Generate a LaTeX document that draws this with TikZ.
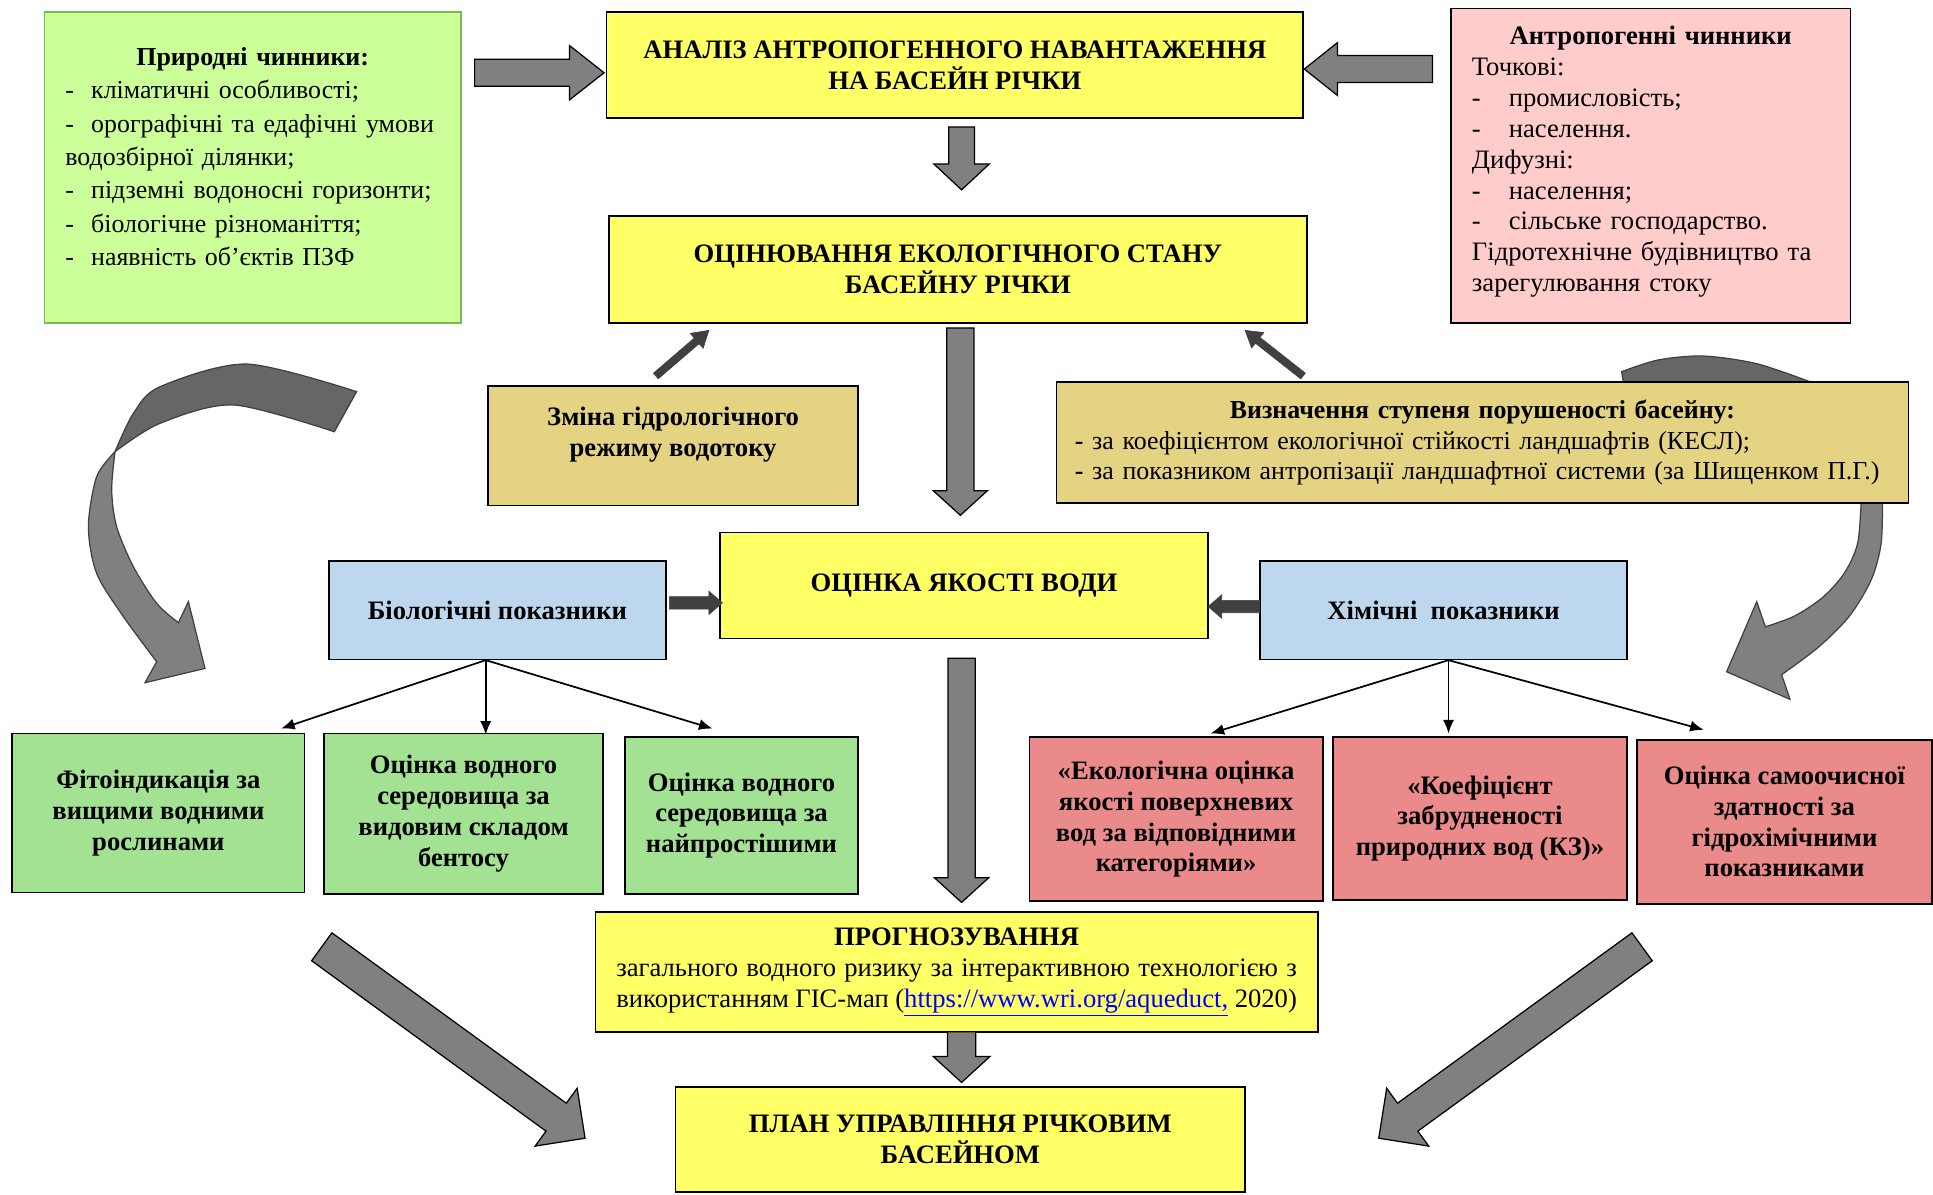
\documentclass[tikz,border=0pt]{standalone}
\usepackage{fontspec}
\setmainfont{Liberation Serif}
\usetikzlibrary{arrows.meta}
\definecolor{grTop}{RGB}{204,255,153}
\definecolor{grBord}{RGB}{120,185,80}
\definecolor{yel}{RGB}{255,255,102}
\definecolor{pinkb}{RGB}{255,204,204}
\definecolor{tanb}{RGB}{228,211,131}
\definecolor{blueb}{RGB}{189,215,238}
\definecolor{grBot}{RGB}{163,226,146}
\definecolor{redb}{RGB}{234,138,138}
\definecolor{arrgray}{RGB}{128,128,128}
\definecolor{arrdark}{RGB}{102,102,102}
\definecolor{arrline}{RGB}{64,64,64}
\newcommand{\fs}{\fontsize{21.6}{25}\selectfont}
\newcommand{\blkarrow}[6][]{%
  \path (#2); \pgfgetlastxy{\bax}{\bay}%
  \path (#3); \pgfgetlastxy{\bbx}{\bby}%
  \pgfmathsetmacro\bkang{atan2((\bby)-(\bay),(\bbx)-(\bax))}%
  \pgfmathsetmacro\bklen{veclen((\bbx)-(\bax),(\bby)-(\bay))}%
  \filldraw[blockar,#1,shift={(\bax,\bay)},rotate=\bkang]
    (0,-#4/2) -- ({\bklen-#6},-#4/2) -- ({\bklen-#6},-#5/2) -- (\bklen,0)
    -- ({\bklen-#6},#5/2) -- ({\bklen-#6},#4/2) -- (0,#4/2) -- cycle;
}
\tikzset{
  box/.style={draw=black, line width=1.4pt, align=center, inner sep=2pt, font=\fs},
  boldbox/.style={box, font=\fs\bfseries},
  blockar/.style={fill=arrgray, draw=black, line width=1pt, line join=miter},
  smallar/.style={fill=arrline, draw=arrline, line width=0.5pt},
  curvD/.style={fill=arrdark, draw=arrline, line width=1pt},
  curvL/.style={fill=arrgray, draw=arrline, line width=1pt},
  tree/.style={line width=1.4pt, -{Latex[length=11pt,width=9pt]}}
}
\begin{document}
\begin{tikzpicture}[x=1pt,y=1pt]
\fill[white] (0,0) rectangle (1568,-969);
\useasboundingbox (0,0) rectangle (1568,-969);

% right curved arrow (behind the tan box)
\filldraw[curvD] plot[smooth] coordinates {(1315.4,-301.5) (1345,-292) (1381.7,-288.8) (1425,-295) (1468,-309.6)}
  -- (1468,-330) -- (1320,-330) -- cycle;
\filldraw[curvL] plot[smooth] coordinates {(1510,-400) (1507,-440) (1496,-465) (1478,-485) (1455,-500) (1432,-508.4)}
  -- (1425,-488.1) -- (1400.6,-544.9) -- (1452,-567.3) -- (1445.2,-547.3)
  -- plot[smooth] coordinates {(1445.2,-547.3) (1475,-525) (1500,-500) (1518,-470) (1526,-440) (1527,-400)} -- cycle;

% left curved arrow
\filldraw[curvD] plot[smooth] coordinates {(289.3,-317.7) (200.1,-295.3) (129.8,-313.7) (108.2,-335.3) (93.3,-366.4)}
  -- plot[smooth] coordinates {(93.3,-366.4) (129.8,-343.4) (189.3,-328.5) (271.2,-350.2)} -- cycle;
\filldraw[curvL] plot[smooth] coordinates {(93.3,-366.4) (78.4,-386.7) (71.7,-427.2) (78.4,-465.1) (100.1,-500.2) (127.1,-536.8)}
  -- (117.6,-553.8) -- (166.3,-542.2) -- (152.8,-488.1) -- (144.7,-505.1)
  -- plot[smooth] coordinates {(144.7,-505.1) (127.1,-489.4) (108.2,-459.7) (94.6,-427.2) (90.6,-397.5) (93.3,-366.4)} -- cycle;

% boxes
\node[box, draw=grBord, fill=grTop, align=left, text width=304pt, inner xsep=17pt,
  minimum height=252pt, font=\fontsize{21}{27}\selectfont] (nat) at (205,-136) {%
\makebox[\linewidth]{\textbf{Природні чинники:}}\\
\mbox{-\ \ кліматичні особливості;}\\
\mbox{-\ \ орографічні та едафічні умови}\\
\mbox{водозбірної ділянки;}\\
\mbox{-\ \ підземні водоносні горизонти;}\\
\mbox{-\ \ біологічне різноманіття;}\\
\mbox{-\ \ наявність об’єктів ПЗФ}\rule[-18pt]{0pt}{0pt}};

\node[box, fill=pinkb, align=left, text width=290pt, inner xsep=17pt,
  minimum height=255pt] (anth) at (1339,-134.5) {%
\makebox[\linewidth]{\textbf{Антропогенні чинники}}\\
Точкові:\\
\makebox[30pt][l]{-}промисловість;\\
\makebox[30pt][l]{-}населення.\\
Дифузні:\\
\makebox[30pt][l]{-}населення;\\
\makebox[30pt][l]{-}сільське господарство.\\
Гідротехнічне будівництво та\\
зарегулювання стоку\rule[-11pt]{0pt}{0pt}};

\node[boldbox, fill=yel, minimum width=565pt, minimum height=86pt] (y1) at (774.5,-53)
  {АНАЛІЗ АНТРОПОГЕННОГО НАВАНТАЖЕННЯ\\НА БАСЕЙН РІЧКИ};
\node[boldbox, fill=yel, minimum width=566pt, minimum height=87pt] (y2) at (777,-218.5)
  {ОЦІНЮВАННЯ ЕКОЛОГІЧНОГО СТАНУ\\БАСЕЙНУ РІЧКИ};

\node[boldbox, fill=tanb, minimum width=300pt, minimum height=97pt] (zm) at (546,-361.5)
  {Зміна гідрологічного\\режиму водотоку\rule[-22pt]{0pt}{0pt}};
\node[box, fill=tanb, align=left, text width=661pt, inner xsep=15pt, minimum height=98pt,
  font=\fontsize{21}{25}\selectfont] (vz) at (1202.5,-359) {%
\makebox[\linewidth]{\textbf{Визначення ступеня порушеності басейну:}}\\
\mbox{\textbf{-}\ за коефіцієнтом екологічної стійкості ландшафтів (КЕСЛ);}\\
\mbox{\textbf{-}\ за показником антропізації ландшафтної системи (за Шищенком П.Г.)}};

\node[boldbox, fill=blueb, minimum width=273pt, minimum height=80pt] (bio) at (403.5,-495) {Біологічні показники};
\node[boldbox, fill=blueb, minimum width=298pt, minimum height=80pt] (chem) at (1171,-495) {Хімічні\ \ показники};
\node[boldbox, fill=yel, minimum width=396pt, minimum height=86pt] (wq) at (782,-475) {ОЦІНКА ЯКОСТІ ВОДИ};

\node[boldbox, fill=grBot, minimum width=237pt, minimum height=129pt] (g1) at (128.5,-659.5)
  {Фітоіндикація за\\вищими водними\\рослинами};
\node[boldbox, fill=grBot, minimum width=226pt, minimum height=130pt] (g2) at (376,-660)
  {Оцінка водного\\середовища за\\видовим складом\\бентосу};
\node[boldbox, fill=grBot, minimum width=189pt, minimum height=127pt] (g3) at (601.5,-661.5)
  {Оцінка водного\\середовища за\\найпростішими};

\node[boldbox, fill=redb, minimum width=238pt, minimum height=133pt] (r1) at (954,-664.5)
  {«Екологічна оцінка\\якості поверхневих\\вод за відповідними\\категоріями»};
\node[boldbox, fill=redb, minimum width=239pt, minimum height=132pt] (r2) at (1200.5,-664)
  {«Коефіцієнт\\забрудненості\\природних вод (КЗ)»};
\node[boldbox, fill=redb, minimum width=239pt, minimum height=133pt] (r3) at (1447.5,-666.5)
  {Оцінка самоочисної\\здатності за\\гідрохімічними\\показниками};

\node[box, fill=yel, minimum width=586pt, minimum height=97pt] (pr) at (776,-788.5)
  {\textbf{ПРОГНОЗУВАННЯ}\\
   \makebox[552pt][s]{загального водного ризику за інтерактивною технологією з}\\
   \makebox[552pt][s]{використанням ГІС-мап (\textcolor{blue}{\underline{https://www.wri.org/aqueduct,}} 2020)}};
\node[boldbox, fill=yel, minimum width=462pt, minimum height=85pt] (pl) at (779,-924.5)
  {ПЛАН УПРАВЛІННЯ РІЧКОВИМ\\БАСЕЙНОМ};

% block arrows
\coordinate (a1s) at (385,-59);   \coordinate (a1e) at (490,-59);
\coordinate (a2s) at (1162,-56);  \coordinate (a2e) at (1058,-56);
\coordinate (a3s) at (780,-103);  \coordinate (a3e) at (780,-154);
\coordinate (a4s) at (779,-266);  \coordinate (a4e) at (779,-418);
\coordinate (a5s) at (780,-534);  \coordinate (a5e) at (780,-732);
\coordinate (a6s) at (780,-837);  \coordinate (a6e) at (780,-878);
\coordinate (a7s) at (543,-489);  \coordinate (a7e) at (586,-489);
\coordinate (a8s) at (1022,-492); \coordinate (a8e) at (980,-492);
\coordinate (a9s) at (261,-768);  \coordinate (a9e) at (474.6,-923.3);
\coordinate (a10s) at (1332,-768); \coordinate (a10e) at (1118.4,-923.3);
\coordinate (a11s) at (532,-305); \coordinate (a11e) at (575,-268);
\coordinate (a12s) at (1057,-305); \coordinate (a12e) at (1010,-268);

\blkarrow{a1s}{a1e}{22}{44}{28}
\blkarrow{a2s}{a2e}{22}{43}{27}
\blkarrow{a3s}{a3e}{21}{45}{21}
\blkarrow{a4s}{a4e}{22}{44}{20}
\blkarrow{a5s}{a5e}{22}{44}{20}
\blkarrow{a6s}{a6e}{23}{46}{21}
\blkarrow[smallar]{a7s}{a7e}{10}{19}{11}
\blkarrow[smallar]{a8s}{a8e}{10}{19}{11}
\blkarrow{a9s}{a9e}{28}{58}{29}
\blkarrow{a10s}{a10e}{28}{58}{29}
\blkarrow[smallar]{a11s}{a11e}{6}{16}{13}
\blkarrow[smallar]{a12s}{a12e}{6}{16}{13}

% thin tree connectors
\coordinate (bt) at (394,-535.5);
\coordinate (ct) at (1175,-535.5);
\draw[tree] (bt) -- (228,-591);
\draw[tree] (bt) -- (394,-596);
\draw[tree] (bt) -- (578,-591);
\draw[tree] (ct) -- (982,-595);
\draw[tree] (ct) -- (1175,-595);
\draw[tree] (ct) -- (1382,-592);
\end{tikzpicture}
\end{document}
